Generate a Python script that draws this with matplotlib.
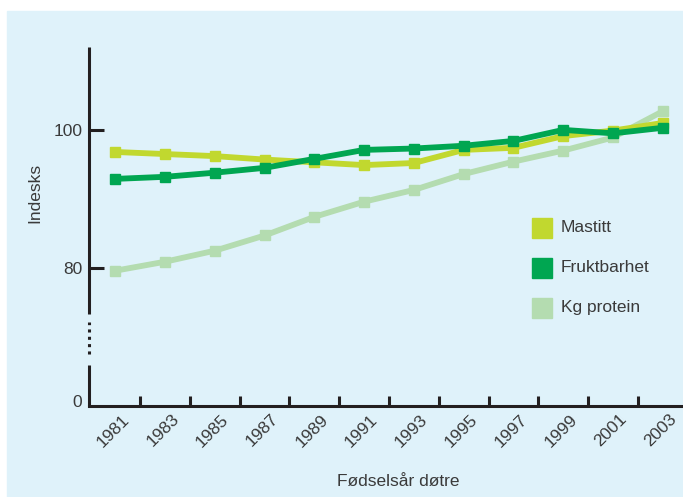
import matplotlib
matplotlib.use("Agg")
import matplotlib.pyplot as plt
import matplotlib.transforms as mtransforms
from matplotlib.patches import Rectangle

plt.rcParams['font.family'] = ['Liberation Sans', 'DejaVu Sans']

years = ['1981', '1983', '1985', '1987', '1989', '1991', '1993',
         '1995', '1997', '1999', '2001', '2003']
mastitt = [96.8, 96.5, 96.2, 95.7, 95.3, 94.9, 95.2, 97.1, 97.4, 99.1, 99.9, 101.0]
fruktbarhet = [92.9, 93.2, 93.8, 94.5, 95.8, 97.1, 97.3, 97.7, 98.4, 100.0, 99.5, 100.3]
kg_protein = [79.6, 80.9, 82.5, 84.7, 87.4, 89.6, 91.3, 93.6, 95.4, 97.0, 98.9, 102.7]

series = [
    ('Kg protein', kg_protein, '#b4dcb0'),
    ('Mastitt', mastitt, '#c1d82f'),
    ('Fruktbarhet', fruktbarhet, '#00a651'),
]
legend_order = ['Mastitt', 'Fruktbarhet', 'Kg protein']

# broken axis: the "0" level sits where 60 would be
y_break_base = 60
ytick_vals = [60, 80, 100]
ytick_labels = ['0', '80', '100']

W, H = 683, 497
BG = '#dff2fa'
INK = '#231f20'
TXT = '#3a3a3a'

fig = plt.figure(figsize=(W / 100, H / 100), dpi=100, facecolor='white')
fig.patches.append(Rectangle((7 / W, 0), 1 - 7 / W, 1 - 11 / H,
                             transform=fig.transFigure, color=BG, zorder=-5))

ax = fig.add_axes([89.3 / W, (H - 406) / H, 1 - 89.3 / W, (406 - 46.7) / H])
ax.set_facecolor('none')

x = list(range(len(years)))
for name, vals, col in series:
    ax.plot(x, vals, color=col, lw=4.2, marker='s', ms=7.5,
            solid_joinstyle='miter', label=name, zorder=3)

ax.set_xlim(-0.522, 11.406)
ax.set_ylim(y_break_base, 112.05)

for s in ['top', 'right', 'left']:
    ax.spines[s].set_visible(False)
ax.spines['bottom'].set_linewidth(2.2)
ax.spines['bottom'].set_color(INK)

# left axis with a dotted break
yt = ax.get_yaxis_transform()
ax.plot([0, 0], [73.4, 112.05], transform=yt, color=INK, lw=2.2,
        solid_capstyle='butt', clip_on=False, zorder=4)
ax.plot([0, 0], [60, 66.0], transform=yt, color=INK, lw=2.2,
        solid_capstyle='butt', clip_on=False, zorder=4)
ax.plot([0, 0], [67.5, 72.1], transform=yt, color=INK, lw=2.2,
        dashes=(1.0, 1.4), dash_capstyle='butt', clip_on=False, zorder=4)

ax.set_yticks(ytick_vals, ytick_labels)
ax.tick_params(axis='y', direction='in', length=10.8, width=2.2, color=INK,
               labelsize=12.5, labelcolor=TXT, pad=5)
ax.yaxis.get_major_ticks()[0].tick1line.set_visible(False)
# the "0" sits a little above the baseline
zero_lab = ax.yaxis.get_major_ticks()[0].label1
zero_lab.set_transform(zero_lab.get_transform() +
                       mtransforms.ScaledTranslation(0, 5 / 100, fig.dpi_scale_trans))

ax.set_xticks(x, years)
ax.set_xticks([i + 0.5 for i in range(len(years) - 1)], minor=True)
ax.tick_params(axis='x', which='major', length=0, labelsize=12.5,
               labelcolor=TXT, pad=4)
ax.tick_params(axis='x', which='minor', direction='in', length=7.2,
               width=2.2, color=INK)
shift = mtransforms.ScaledTranslation(6 / 100, 0, fig.dpi_scale_trans)
for lab in ax.get_xticklabels():
    lab.set_rotation(45)
    lab.set_ha('right')
    lab.set_va('top')
    lab.set_rotation_mode('anchor')
    lab.set_transform(lab.get_transform() + shift)

fig.text(35 / W, 1 - 193 / H, 'Indesks', rotation=90, ha='center',
         va='center', fontsize=12.5, color=TXT)
fig.text(398 / W, 1 - 482 / H, 'Fødselsår døtre', ha='center',
         va='center', fontsize=12.5, color=TXT)

# legend swatches
colors = {n: c for n, _, c in series}
for i, name in enumerate(legend_order):
    top = 217.7 + 40 * i
    fig.patches.append(Rectangle((532 / W, 1 - (top + 20) / H), 20 / W, 20 / H,
                                 transform=fig.transFigure,
                                 color=colors[name], zorder=2))
    fig.text(561 / W, 1 - (top + 10) / H, name, ha='left', va='center',
             fontsize=12.5, color=TXT)

fig.savefig('out.png', dpi=100, facecolor='white')
